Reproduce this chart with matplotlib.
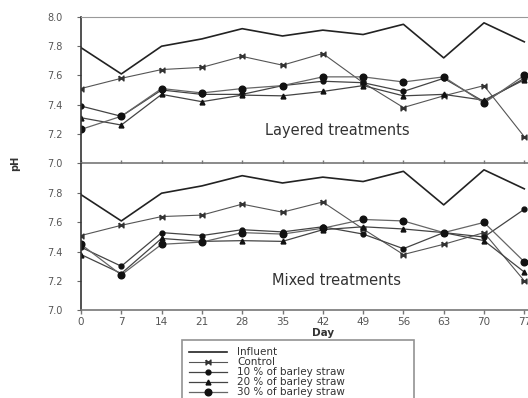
import matplotlib
matplotlib.use("Agg")
import matplotlib.pyplot as plt

# ======================
# DATA
# ======================
days = [0, 7, 14, 21, 28, 35, 42, 49, 56, 63, 70, 77]
influent = [7.79, 7.61, 7.80, 7.85, 7.92, 7.87, 7.91, 7.88, 7.95, 7.72, 7.96, 7.83]

# layered treatments
lay_control = [7.51, 7.58, 7.64, 7.655, 7.73, 7.67, 7.75, 7.55, 7.38, 7.46, 7.53, 7.18]
lay_10 = [7.39, 7.32, 7.50, 7.47, 7.47, 7.53, 7.56, 7.55, 7.49, 7.58, 7.42, 7.58]
lay_20 = [7.31, 7.26, 7.47, 7.42, 7.465, 7.46, 7.49, 7.53, 7.46, 7.47, 7.43, 7.57]
lay_30 = [7.23, 7.32, 7.51, 7.48, 7.51, 7.53, 7.59, 7.59, 7.555, 7.59, 7.41, 7.60]

# mixed treatments
mix_control = [7.51, 7.58, 7.64, 7.65, 7.725, 7.67, 7.74, 7.555, 7.38, 7.45, 7.53, 7.20]
mix_10 = [7.43, 7.30, 7.53, 7.51, 7.55, 7.535, 7.57, 7.52, 7.42, 7.53, 7.50, 7.69]
mix_20 = [7.38, 7.25, 7.49, 7.47, 7.475, 7.47, 7.55, 7.57, 7.555, 7.53, 7.475, 7.26]
mix_30 = [7.45, 7.24, 7.45, 7.465, 7.53, 7.52, 7.56, 7.62, 7.61, 7.53, 7.60, 7.33]

labels = ["Influent", "Control", "10 % of barley straw",
          "20 % of barley straw", "30 % of barley straw"]

# ======================
# STYLE
# ======================
plt.rcParams["font.family"] = "DejaVu Sans"
txt_col = "#555555"
bowtie = [(-1, 1), (-1, -1), (1, 1), (1, -1), (-1, 1)]


def draw_panel(ax, control, s10, s20, s30, title, ty):
    ax.plot(days, influent, color="#222222", lw=1.2, label=labels[0])
    ax.plot(days, control, color="#555555", lw=0.8, marker=bowtie,
            ms=3.5, mfc="#333333", mec="#333333", label=labels[1])
    ax.plot(days, s10, color="#444444", lw=0.9, marker="o", ms=3.5,
            mfc="#111111", mec="#111111", label=labels[2])
    ax.plot(days, s20, color="#444444", lw=0.9, marker="^", ms=3.5,
            mfc="#111111", mec="#111111", label=labels[3])
    ax.plot(days, s30, color="#666666", lw=0.9, marker="o", ms=4.8,
            mfc="#111111", mec="#111111", label=labels[4])
    ax.set_xlim(0, 84)
    ax.set_ylim(7.0, 8.0)
    ax.set_xticks(days)
    ax.spines["right"].set_visible(False)
    ax.spines["left"].set_color("#333333")
    ax.spines["bottom"].set_color("#777777")
    ax.spines["top"].set_color("#999999")
    ax.spines["left"].set_linewidth(1.2)
    ax.spines["bottom"].set_linewidth(1.2)
    ax.tick_params(axis="y", length=3, width=0.8, color="#666666",
                   labelsize=7, labelcolor=txt_col, pad=10)
    # centre of the panel label in figure pixels -> axes coords
    ax.text((337 - 81) / (84 * 40.3 / 7), ty, title, transform=ax.transAxes,
            fontsize=10.5, color="#333333", ha="center", va="center")


fig = plt.figure(figsize=(5.28, 3.98), dpi=100)
x0 = 81 / 528
w = 84 * 40.3 / 7 / 528
h = 146 / 398

ax_top = fig.add_axes([x0, 1 - 163 / 398, w, h])
ax_bot = fig.add_axes([x0, 1 - 310 / 398, w, h])

draw_panel(ax_top, lay_control, lay_10, lay_20, lay_30,
           "Layered treatments", 0.22)
draw_panel(ax_bot, mix_control, mix_10, mix_20, mix_30,
           "Mixed treatments", 0.20)

ax_top.set_yticks([7.0, 7.2, 7.4, 7.6, 7.8, 8.0])
ax_top.set_yticklabels(["7.0", "7.2", "7.4", "7.6", "7.8", "8.0"])
ax_top.tick_params(axis="x", direction="inout", length=5, width=1,
                   color="#777777", labelbottom=False)

ax_bot.spines["top"].set_visible(False)
ax_bot.set_yticks([7.0, 7.2, 7.4, 7.6, 7.8])
ax_bot.set_yticklabels(["7.0", "7.2", "7.4", "7.6", "7.8"])
ax_bot.tick_params(axis="x", direction="out", length=3, width=1,
                   color="#777777", labelsize=7.5, labelcolor=txt_col, pad=2)
ax_bot.set_xlabel("Day", fontsize=7.5, fontweight="bold", color="#333333",
                  labelpad=1)

fig.text(15 / 528, 1 - 163 / 398, "pH", rotation=90, fontsize=7,
         fontweight="bold", color="#333333", ha="center", va="center")

handles, leg_labels = ax_top.get_legend_handles_labels()
leg = fig.legend(handles, leg_labels, loc="upper left",
                 bbox_to_anchor=(182 / 528, 1 - 340 / 398, 232 / 528, 0),
                 mode="expand",
                 fontsize=7.5, frameon=True, fancybox=False,
                 handlelength=3.6, labelspacing=0.0, borderpad=0.7,
                 handletextpad=1.0, borderaxespad=0)
leg.get_frame().set_edgecolor("#777777")
leg.get_frame().set_linewidth(1.2)
for t in leg.get_texts():
    t.set_color("#333333")

fig.savefig("out.png", dpi=100)
